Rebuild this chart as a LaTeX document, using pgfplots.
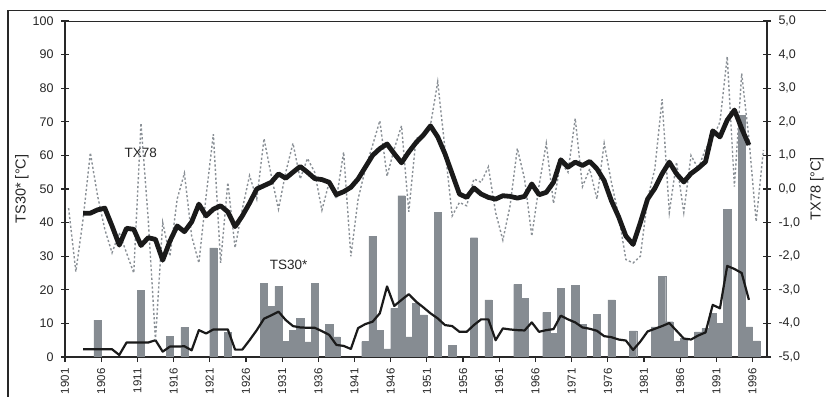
\documentclass[border=0pt]{standalone}
\usepackage{fontspec}
\setmainfont{Liberation Sans}
\usepackage{pgfplots}
\usepackage{pgfplotstable}
\pgfplotsset{compat=1.18}
\pgfplotsset{/pgf/number format/assume math mode=true}

\definecolor{bargray}{RGB}{134,140,146}
\definecolor{dotgray}{RGB}{138,144,150}
\definecolor{linedark}{RGB}{26,26,26}
\definecolor{framedark}{RGB}{40,40,40}

% TS30*: yearly counts (bars)
\pgfplotstableread{
year ts
1905 11
1911 19.8
1915 6.2
1917 8.8
1921 32.5
1923 7.3
1928 22
1929 15
1930 21
1931 4.6
1932 8
1933 11.5
1934 4.5
1935 22
1937 9.7
1938 6
1942 4.6
1943 36
1944 8
1945 2.4
1946 14.5
1947 48
1948 6
1949 16
1950 12.5
1952 43
1954 3.4
1957 35.5
1959 17
1963 21.6
1964 17.5
1967 13.3
1968 7
1969 20.4
1971 21.4
1972 9.8
1974 12.7
1976 17
1979 7.8
1982 9
1983 24
1984 10.5
1985 4.8
1986 5.5
1988 7.5
1989 8.5
1990 13
1991 10
1992 44
1994 72
1995 9
1996 4.8
}\tsbars

% TS30*: running mean
\pgfplotstableread{
year ma
1903 2.3
1904 2.3
1905 2.3
1906 2.3
1907 2.3
1908 0.6
1909 4.3
1910 4.3
1911 4.3
1912 4.3
1913 5.0
1914 1.6
1915 3.1
1916 3.1
1917 3.2
1918 2.0
1919 8.0
1920 7.0
1921 8.2
1922 8.2
1923 8.2
1924 2.2
1925 2.2
1926 5.0
1927 8.0
1928 11.4
1929 12.4
1930 13.5
1931 11.0
1932 9.2
1933 8.8
1934 8.7
1935 8.7
1936 7.7
1937 6.6
1938 3.6
1939 3.3
1940 2.4
1941 8.6
1942 9.8
1943 10.5
1944 13.0
1945 21.0
1946 15.2
1947 17.0
1948 18.7
1949 16.5
1950 14.8
1951 13.0
1952 11.5
1953 9.5
1954 9.2
1955 7.5
1956 7.5
1957 9.5
1958 11.2
1959 11.2
1960 5.0
1961 8.5
1962 8.2
1963 8.0
1964 7.9
1965 10.3
1966 7.5
1967 8.0
1968 8.3
1969 12.3
1970 11.2
1971 10.3
1972 8.8
1973 8.4
1974 7.8
1975 6.2
1976 5.9
1977 5.2
1978 4.9
1979 2.1
1980 4.6
1981 7.6
1982 8.4
1983 9.2
1984 10.1
1985 7.8
1986 5.5
1987 5.2
1988 6.4
1989 7.3
1990 15.5
1991 14.5
1992 27.1
1993 26.2
1994 25.0
1995 17.0
}\tsma

% TX78: yearly values
\pgfplotstableread{
year t
1901 -0.57
1902 -2.46
1903 -0.9
1904 1.08
1905 -0.2
1906 -1.2
1907 -1.9
1908 -1.3
1909 -1.9
1910 -2.5
1911 1.96
1912 -0.9
1913 -4.5
1914 -1.0
1915 -2.0
1916 -0.3
1917 0.47
1918 -1.4
1919 -2.2
1920 -0.2
1921 1.63
1922 -2.2
1923 0.19
1924 -1.75
1925 -0.6
1926 0.4
1927 -0.3
1928 1.5
1929 0.4
1930 -0.6
1931 0.5
1932 1.36
1933 0.3
1934 0.91
1935 0.5
1936 -0.63
1937 0.2
1938 -0.3
1939 1.1
1940 -2.0
1941 -0.3
1942 0.6
1943 1.3
1944 2.03
1945 0.38
1946 1.2
1947 1.88
1948 -0.68
1949 1.5
1950 1.6
1951 1.9
1952 3.19
1953 1.2
1954 -0.8
1955 -0.4
1956 -0.5
1957 0.3
1958 0.2
1959 0.66
1960 -0.7
1961 -1.52
1962 -0.5
1963 1.21
1964 0.3
1965 -1.4
1966 0.1
1967 1.36
1968 -0.43
1969 0.8
1970 0.5
1971 2.1
1972 0.07
1973 0.6
1974 -0.3
1975 1.36
1976 0.2
1977 -0.8
1978 -2.1
1979 -2.2
1980 -2.0
1981 -0.3
1982 0.6
1983 2.67
1984 -0.7
1985 0.8
1986 -0.7
1987 1.0
1988 0.6
1989 1.2
1990 1.5
1991 2.0
1992 3.94
1993 0.07
1994 3.44
1995 1.5
1996 -0.97
1997 1.16
}\txyear

% TX78: running mean
\pgfplotstableread{
year t
1903 -0.72
1904 -0.72
1905 -0.62
1906 -0.57
1907 -1.10
1908 -1.67
1909 -1.17
1910 -1.20
1911 -1.68
1912 -1.45
1913 -1.50
1914 -2.12
1915 -1.55
1916 -1.10
1917 -1.27
1918 -0.98
1919 -0.45
1920 -0.80
1921 -0.60
1922 -0.50
1923 -0.68
1924 -1.12
1925 -0.80
1926 -0.42
1927 0.00
1928 0.10
1929 0.20
1930 0.45
1931 0.32
1932 0.50
1933 0.67
1934 0.50
1935 0.31
1936 0.28
1937 0.20
1938 -0.17
1939 -0.08
1940 0.05
1941 0.30
1942 0.65
1943 1.00
1944 1.20
1945 1.34
1946 1.05
1947 0.78
1948 1.10
1949 1.38
1950 1.60
1951 1.88
1952 1.55
1953 1.05
1954 0.45
1955 -0.15
1956 -0.25
1957 0.03
1958 -0.15
1959 -0.25
1960 -0.30
1961 -0.20
1962 -0.22
1963 -0.27
1964 -0.22
1965 0.15
1966 -0.17
1967 -0.10
1968 0.20
1969 0.87
1970 0.65
1971 0.80
1972 0.70
1973 0.82
1974 0.60
1975 0.25
1976 -0.35
1977 -0.83
1978 -1.40
1979 -1.65
1980 -1.00
1981 -0.30
1982 0.02
1983 0.45
1984 0.80
1985 0.45
1986 0.21
1987 0.46
1988 0.62
1989 0.81
1990 1.73
1991 1.55
1992 2.05
1993 2.35
1994 1.80
1995 1.31
}\txma

\pgfplotsset{
  base/.style={
    at={(65bp,40bp)}, anchor=south west,
    scale only axis, width=702bp, height=336bp,
    xmin=1901, xmax=1998,
    axis line style={line width=1.5bp, framedark},
    tick style={line width=1.2bp, framedark},
    major tick length=8bp,
    tick align=outside,
    every tick label/.append style={font=\fontsize{12.5bp}{14bp}\selectfont, text=black!85},
  }
}

\begin{document}
\begin{tikzpicture}
\useasboundingbox (0,0) rectangle (826bp,397bp);
% outer frame
\draw[line width=1.3bp, framedark] (8bp,0) -- (8bp,386.3bp) -- (826bp,386.3bp);

\begin{axis}[base,
  ymin=0, ymax=100,
  axis x line*=bottom, axis y line*=left,
  xtick={1901,1906,...,1996},
  xticklabels={1901,1906,1911,1916,1921,1926,1931,1936,1941,1946,1951,1956,1961,1966,1971,1976,1981,1986,1991,1996},
  xticklabel style={rotate=90, anchor=east, font=\fontsize{11.5bp}{13bp}\selectfont},
  xtick style={/pgfplots/major tick length=5bp},
  ytick={0,10,...,100},
  ytick style={xshift=4bp},
  every axis y label/.style={at={(axis description cs:-0.0613,0.5)}, rotate=90, anchor=center,
    font=\fontsize{14.5bp}{16bp}\selectfont, text=black!85},
  ylabel={TS30* [°C]},
]
\addplot[ybar, bar width=1, bar shift=0pt, fill=bargray, draw=bargray, line width=0.3bp]
  table[x expr=\thisrow{year}+0.5, y=ts] {\tsbars};
\addplot[linedark, line width=2.2bp, no marks, line join=round]
  table[x expr=\thisrow{year}+0.5, y=ma] {\tsma};
\node[font=\fontsize{13.5bp}{15bp}\selectfont, text=black!85] at (axis cs:1911.46,60.7) {TX78};
\node[font=\fontsize{13.5bp}{15bp}\selectfont, text=black!85] at (axis cs:1931.9,27.4) {TS30*};
\end{axis}

\begin{axis}[base,
  ymin=-5, ymax=5,
  axis x line=none, axis y line*=right,
  ytick={-5,-4,...,5},
  yticklabels={{-5,0},{-4,0},{-3,0},{-2,0},{-1,0},{0,0},{1,0},{2,0},{3,0},{4,0},{5,0}},
  ytick style={xshift=-4bp},
  every axis y label/.style={at={(axis description cs:1.0712,0.5)}, rotate=90, anchor=center,
    font=\fontsize{14.5bp}{16bp}\selectfont, text=black!85},
  ylabel={TX78 [°C]},
]
\addplot[dotgray, line width=1.4bp, dash pattern=on 2.2bp off 2.2bp, no marks]
  table[x expr=\thisrow{year}+0.5, y=t] {\txyear};
\addplot[linedark, line width=4.8bp, no marks, line join=round]
  table[x expr=\thisrow{year}+0.5, y=t] {\txma};
\end{axis}
% top border of the plot area
\draw[line width=0.9bp, framedark] (65bp,376bp) -- (767bp,376bp);
\end{tikzpicture}
\end{document}
